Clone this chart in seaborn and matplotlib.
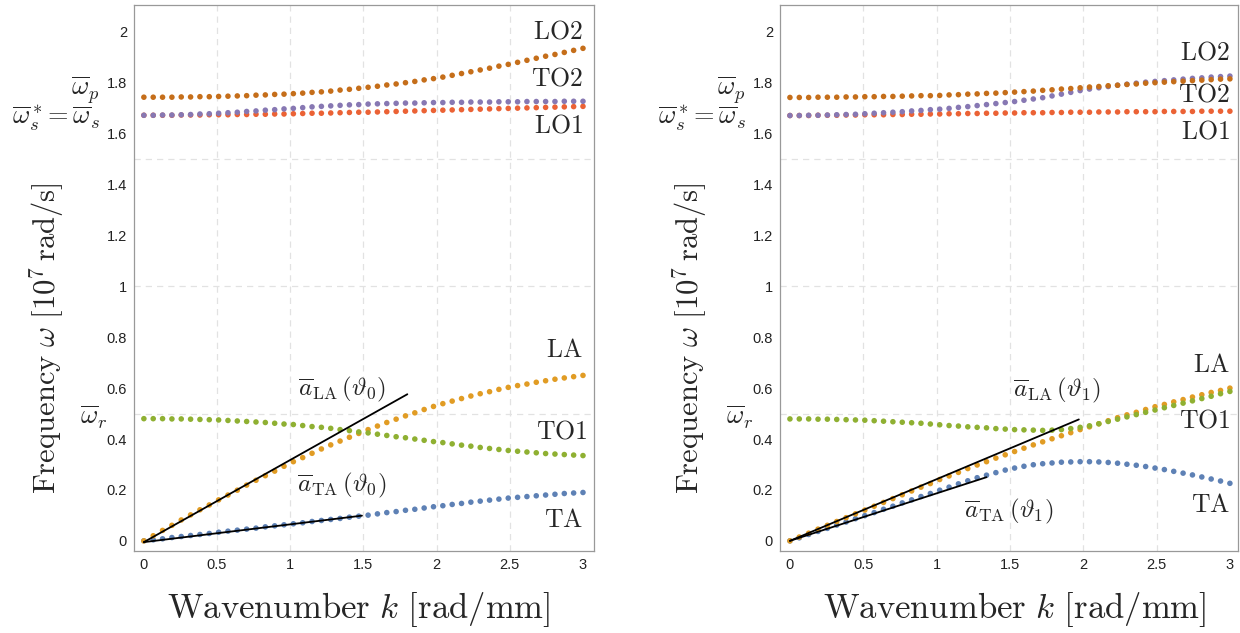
import numpy as np
import pandas as pd
import matplotlib
matplotlib.use("Agg")
import matplotlib.pyplot as plt
import seaborn as sns

# wavenumber grid, rad/mm
k = np.linspace(0, 3, 48)

# --- left panel, theta_0 ---
ta_0 = [0, 0.004, 0.008, 0.013, 0.017, 0.021, 0.025, 0.029, 0.034, 0.038, 0.042, 0.046,
        0.050, 0.055, 0.059, 0.063, 0.067, 0.071, 0.076, 0.080, 0.084, 0.088, 0.093, 0.097,
        0.101, 0.106, 0.111, 0.115, 0.120, 0.124, 0.129, 0.134, 0.138, 0.143, 0.147, 0.152,
        0.156, 0.160, 0.164, 0.168, 0.171, 0.174, 0.177, 0.180, 0.183, 0.186, 0.188, 0.190]
la_0 = [0, 0.020, 0.041, 0.061, 0.082, 0.102, 0.122, 0.141, 0.161, 0.180, 0.199, 0.219,
        0.238, 0.256, 0.274, 0.293, 0.311, 0.327, 0.344, 0.361, 0.377, 0.392, 0.407, 0.422,
        0.437, 0.451, 0.465, 0.478, 0.491, 0.503, 0.516, 0.528, 0.539, 0.549, 0.559, 0.569,
        0.578, 0.586, 0.595, 0.603, 0.610, 0.616, 0.623, 0.629, 0.635, 0.640, 0.645, 0.650]
to1_0 = [0.480, 0.480, 0.480, 0.479, 0.479, 0.478, 0.477, 0.476, 0.475, 0.473, 0.471, 0.469,
         0.467, 0.465, 0.462, 0.459, 0.457, 0.453, 0.449, 0.446, 0.442, 0.437, 0.433, 0.428,
         0.424, 0.419, 0.414, 0.409, 0.405, 0.400, 0.395, 0.390, 0.386, 0.381, 0.376, 0.372,
         0.367, 0.363, 0.359, 0.355, 0.352, 0.349, 0.346, 0.343, 0.341, 0.339, 0.337, 0.335]
lo1_0 = [1.672, 1.672, 1.672, 1.672, 1.673, 1.673, 1.673, 1.674, 1.674, 1.674, 1.675, 1.675,
         1.676, 1.676, 1.677, 1.677, 1.678, 1.679, 1.680, 1.680, 1.681, 1.682, 1.683, 1.684,
         1.684, 1.685, 1.686, 1.687, 1.688, 1.689, 1.690, 1.691, 1.692, 1.693, 1.694, 1.695,
         1.696, 1.697, 1.698, 1.699, 1.700, 1.701, 1.702, 1.703, 1.704, 1.705, 1.706, 1.707]
to2_0 = [1.672, 1.672, 1.673, 1.673, 1.674, 1.675, 1.677, 1.678, 1.680, 1.682, 1.684, 1.687,
         1.689, 1.692, 1.694, 1.697, 1.699, 1.702, 1.705, 1.707, 1.709, 1.711, 1.713, 1.714,
         1.716, 1.717, 1.718, 1.719, 1.720, 1.720, 1.721, 1.722, 1.722, 1.723, 1.723, 1.724,
         1.724, 1.724, 1.725, 1.725, 1.725, 1.726, 1.726, 1.726, 1.726, 1.727, 1.727, 1.727]
lo2_0 = [1.743, 1.743, 1.743, 1.743, 1.744, 1.744, 1.745, 1.745, 1.746, 1.747, 1.748, 1.749,
         1.751, 1.752, 1.754, 1.755, 1.757, 1.759, 1.762, 1.764, 1.767, 1.771, 1.774, 1.778,
         1.782, 1.786, 1.791, 1.795, 1.800, 1.805, 1.811, 1.816, 1.822, 1.829, 1.836, 1.843,
         1.850, 1.857, 1.865, 1.872, 1.880, 1.888, 1.896, 1.904, 1.911, 1.919, 1.927, 1.935]

# --- right panel, theta_1 ---
ta_1 = [0, 0.012, 0.025, 0.037, 0.049, 0.062, 0.074, 0.087, 0.099, 0.111, 0.124, 0.136,
        0.149, 0.161, 0.174, 0.186, 0.199, 0.211, 0.224, 0.236, 0.248, 0.258, 0.268, 0.278,
        0.286, 0.293, 0.299, 0.303, 0.306, 0.309, 0.310, 0.311, 0.311, 0.310, 0.308, 0.305,
        0.301, 0.297, 0.292, 0.286, 0.280, 0.273, 0.266, 0.259, 0.251, 0.243, 0.235, 0.226]
la_1 = [0, 0.015, 0.030, 0.046, 0.061, 0.076, 0.091, 0.106, 0.121, 0.136, 0.151, 0.166,
        0.181, 0.196, 0.211, 0.225, 0.241, 0.255, 0.269, 0.284, 0.298, 0.311, 0.325, 0.338,
        0.351, 0.364, 0.377, 0.389, 0.401, 0.413, 0.425, 0.437, 0.448, 0.460, 0.472, 0.484,
        0.495, 0.505, 0.516, 0.527, 0.536, 0.546, 0.555, 0.565, 0.574, 0.583, 0.591, 0.600]
to1_1 = [0.479, 0.479, 0.479, 0.478, 0.478, 0.477, 0.476, 0.475, 0.474, 0.472, 0.470, 0.468,
         0.466, 0.464, 0.462, 0.459, 0.456, 0.453, 0.451, 0.448, 0.446, 0.444, 0.441, 0.439,
         0.437, 0.436, 0.435, 0.434, 0.435, 0.437, 0.441, 0.446, 0.452, 0.460, 0.469, 0.478,
         0.487, 0.496, 0.505, 0.514, 0.523, 0.532, 0.541, 0.550, 0.559, 0.568, 0.578, 0.587]
lo1_1 = [1.671, 1.671, 1.671, 1.672, 1.672, 1.672, 1.673, 1.673, 1.674, 1.674, 1.674, 1.675,
         1.675, 1.676, 1.676, 1.677, 1.677, 1.678, 1.678, 1.679, 1.679, 1.680, 1.680, 1.681,
         1.681, 1.682, 1.682, 1.682, 1.683, 1.683, 1.684, 1.684, 1.684, 1.685, 1.685, 1.685,
         1.686, 1.686, 1.686, 1.686, 1.687, 1.687, 1.687, 1.687, 1.688, 1.688, 1.688, 1.688]
to2_1 = [1.671, 1.671, 1.672, 1.672, 1.673, 1.674, 1.675, 1.676, 1.678, 1.680, 1.682, 1.684,
         1.686, 1.689, 1.691, 1.694, 1.696, 1.699, 1.703, 1.706, 1.710, 1.714, 1.718, 1.722,
         1.726, 1.731, 1.736, 1.741, 1.748, 1.755, 1.762, 1.769, 1.775, 1.780, 1.785, 1.790,
         1.794, 1.798, 1.802, 1.805, 1.808, 1.811, 1.814, 1.817, 1.819, 1.822, 1.824, 1.826]
lo2_1 = [1.742, 1.742, 1.742, 1.743, 1.743, 1.743, 1.744, 1.744, 1.745, 1.745, 1.746, 1.746,
         1.747, 1.748, 1.749, 1.749, 1.750, 1.752, 1.753, 1.755, 1.756, 1.758, 1.759, 1.761,
         1.763, 1.765, 1.767, 1.770, 1.772, 1.775, 1.777, 1.780, 1.783, 1.785, 1.788, 1.790,
         1.793, 1.795, 1.798, 1.800, 1.802, 1.804, 1.806, 1.808, 1.810, 1.812, 1.814, 1.815]

# long-wave tangent lines (k, omega end points)
tan_la_0 = ([0, 1.80], [-0.005, 0.576])
tan_ta_0 = ([0, 1.49], [-0.005, 0.099])
tan_la_1 = ([0, 1.97], [0, 0.477])
tan_ta_1 = ([0, 1.34], [0, 0.250])

branches = ["TA", "LA", "TO1", "LO1", "TO2", "LO2"]
colors = {"TA": "#5E81B5", "LA": "#E19C24", "TO1": "#8FB032",
          "LO1": "#EB6235", "TO2": "#8778B3", "LO2": "#C56E1A"}

x_ticks = [0, 0.5, 1, 1.5, 2, 2.5, 3]
y_ticks = [0, 0.2, 0.4, 0.6, 0.8, 1, 1.2, 1.4, 1.6, 1.8, 2]


def long_frame(series):
    parts = [pd.DataFrame({"k": k, "omega": vals, "branch": name})
             for name, vals in zip(branches, series)]
    return pd.concat(parts, ignore_index=True)


def draw_panel(ax, series, tangents, theta, xmax, branch_pos, tan_pos, ylab_x, xlab_x):
    df = long_frame(series)
    for gx in [0.5, 1, 1.5, 2, 2.5]:
        ax.axvline(gx, color="#e2e2e2", lw=0.9, ls=(0, (5, 4)), zorder=0)
    for gy in [0.5, 1, 1.5]:
        ax.axhline(gy, color="#e2e2e2", lw=0.9, ls=(0, (5, 4)), zorder=0)

    sns.scatterplot(data=df, x="k", y="omega", hue="branch", palette=colors,
                    hue_order=branches, s=16, linewidth=0, legend=False, ax=ax, zorder=2)
    for tk, tw in tangents:
        sns.lineplot(x=tk, y=tw, color="black", lw=1.3, ax=ax, zorder=3)

    ax.set_xlim(-0.068, xmax)
    ax.set_ylim(-0.04, 2.105)
    ax.set_xticks(x_ticks)
    ax.set_xticklabels([f"{v:g}" for v in x_ticks])
    ax.set_yticks(y_ticks)
    ax.set_yticklabels([f"{v:g}" for v in y_ticks])
    ax.tick_params(direction="in", length=4, width=0.8, color="#999999",
                   labelsize=10.5, labelcolor="#222222", pad=5)
    for sp in ax.spines.values():
        sp.set_visible(True)
        sp.set_color("#999999")
        sp.set_linewidth(0.9)

    ax.set_xlabel(r"$\mathrm{Wavenumber}\ k\ [\mathrm{rad/mm}]$", fontsize=25)
    ax.xaxis.set_label_coords(xlab_x, -0.072)
    ax.xaxis.label.set_va("top")
    ax.set_ylabel(r"$\mathrm{Frequency}\ \omega\ [10^7\,\mathrm{rad/s}]$", fontsize=22)
    ax.yaxis.set_label_coords(ylab_x, 0.39)

    tr = ax.get_yaxis_transform()
    ax.text(-0.074, 1.772, r"$\overline{\omega}_p$", transform=tr,
            ha="right", va="center", fontsize=19)
    ax.text(-0.074, 1.660, r"$\overline{\omega}_s^*\!=\overline{\omega}_s$", transform=tr,
            ha="right", va="center", fontsize=19)
    ax.text(-0.058, 0.485, r"$\overline{\omega}_r$", transform=tr,
            ha="right", va="center", fontsize=19)

    for name, (bx, by) in branch_pos.items():
        ax.text(bx, by, r"$\mathrm{%s}$" % name, ha="right", va="center", fontsize=18.5)
    (lx, ly), (tx, ty) = tan_pos
    ax.text(lx, ly, r"$\overline{a}_{\mathrm{LA}}\,(\vartheta_%d)$" % theta,
            ha="center", va="center", fontsize=18)
    ax.text(tx, ty, r"$\overline{a}_{\mathrm{TA}}\,(\vartheta_%d)$" % theta,
            ha="center", va="center", fontsize=18)


sns.set_theme(style="white")
plt.rcParams["font.family"] = ["Liberation Sans", "DejaVu Sans"]
plt.rcParams["mathtext.fontset"] = "cm"

fig = plt.figure(figsize=(12.4, 6.33), dpi=100)
ax1 = fig.add_axes([0.108, 0.1295, 0.371, 0.8625])
ax2 = fig.add_axes([0.629, 0.1295, 0.369, 0.8625])

draw_panel(ax1, [ta_0, la_0, to1_0, lo1_0, to2_0, lo2_0], [tan_la_0, tan_ta_0], 0, 3.075,
           {"LO2": (3.0, 2.0), "TO2": (3.0, 1.815), "LO1": (3.0, 1.63),
            "LA": (3.0, 0.75), "TO1": (3.03, 0.43), "TA": (3.0, 0.08)},
           [(1.35, 0.593), (1.35, 0.216)], -0.148, 0.489)
draw_panel(ax2, [ta_1, la_1, to1_1, lo1_1, to2_1, lo2_1], [tan_la_1, tan_ta_1], 1, 3.052,
           {"LO2": (3.0, 1.92), "TO2": (3.0, 1.752), "LO1": (3.0, 1.607),
            "LA": (3.0, 0.689), "TO1": (3.0, 0.473), "TA": (3.0, 0.139)},
           [(1.82, 0.589), (1.49, 0.114)], -0.155, 0.513)

fig.savefig("out.png", dpi=100)
